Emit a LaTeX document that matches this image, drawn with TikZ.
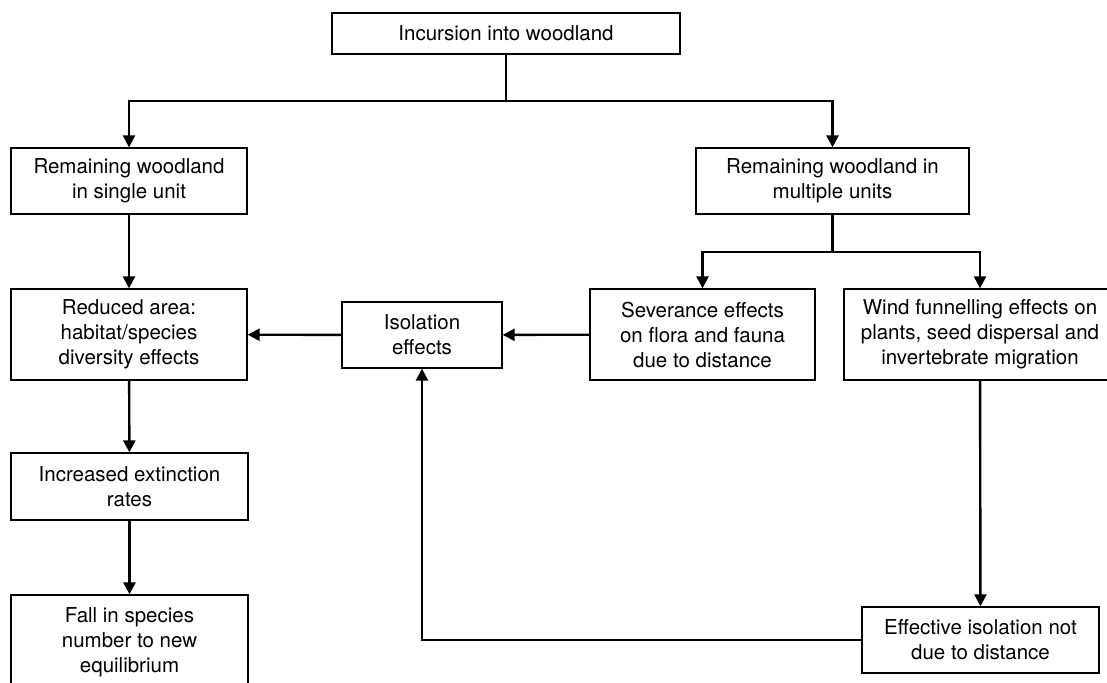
\documentclass[tikz,border=0pt]{standalone}
\usepackage{fontspec}
\setmainfont{TeX Gyre Heros}
\usetikzlibrary{arrows.meta, positioning}

\begin{document}
\begin{tikzpicture}[x=1pt, y=-1pt, font=\fontsize{20.5pt}{25pt}\selectfont]

		% Setup the style for the boxes and links
		\tikzset{box style/.style={draw, rectangle,
				line width=1.3pt,
				inner sep=0pt,
				align=center},
			link style/.style={line width=2.4pt,
				>={Triangle[length=12pt, width=12pt]}}}

		\useasboundingbox (0,0) rectangle (1107,682);

		% Draw the boxes
		\node[box style, minimum width=348, minimum height=41] at (506, 33.5)  (incursion)  {Incursion into woodland};
		\node[box style, minimum width=236, minimum height=66] at (129, 181)   (single)     {Remaining woodland\\in single unit};
		\node[box style, minimum width=273, minimum height=66] at (832.5, 181) (multiple)   {Remaining woodland in\\multiple units};
		\node[box style, minimum width=236, minimum height=91] at (129, 334.5) (reduced)    {Reduced area:\\habitat/species\\diversity effects};
		\node[box style, minimum width=160, minimum height=66] at (422, 335)   (isolation)  {Isolation\\effects};
		\node[box style, minimum width=225, minimum height=91] at (702.5, 334.5) (severance) {Severance effects\\on flora and fauna\\due to distance};
		\node[box style, minimum width=272, minimum height=91] at (980, 334.5) (wind)       {Wind funnelling effects on\\plants, seed dispersal and\\invertebrate migration};
		\node[box style, minimum width=237, minimum height=67] at (129.5, 486.5) (increased) {Increased extinction\\rates};
		\node[box style, minimum width=237, minimum height=95] at (129.5, 642.5) (fall)     {Fall in species\\number to new\\equilibrium};
		\node[box style, minimum width=237, minimum height=66] at (980.5, 640) (effective)  {Effective isolation not\\due to distance};

		% Split points
		\coordinate (split top) at (506, 101);
		\coordinate (split multiple) at (832.5, 252);

		% Connect the boxes with arrows
		\draw[link style] (incursion) -- (split top);
		\draw[link style, ->] (split top) -| (single);
		\draw[link style, ->] (split top) -| (multiple);
		\draw[link style] (multiple) -- (split multiple);
		\draw[link style, ->] (split multiple) -| (severance);
		\draw[link style, ->] (split multiple) -| (wind);
		\draw[link style, ->] (single) -- (reduced);
		\draw[link style, ->] (severance) -- (isolation);
		\draw[link style, ->] (isolation) -- (reduced);
		\draw[link style, ->] (reduced) -- (increased);
		\draw[link style, ->] (increased) -- (fall);
		\draw[link style, ->] (wind) -- (effective);
		\draw[link style, ->] (effective) -| (isolation);
\end{tikzpicture}
\end{document}
